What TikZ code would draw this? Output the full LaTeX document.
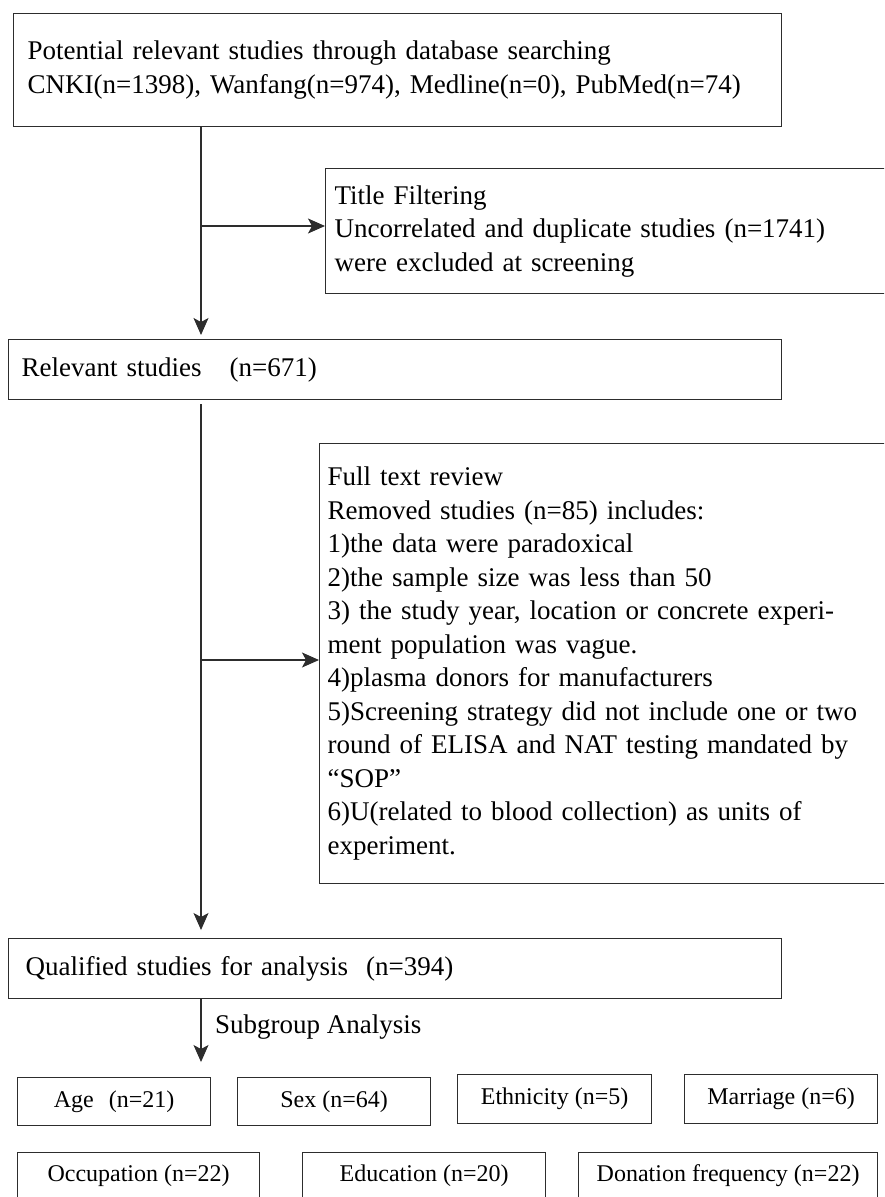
\documentclass[tikz,border=0pt]{standalone}
\usepackage{fontspec}
\setmainfont{Liberation Serif}
\usetikzlibrary{positioning,arrows.meta,calc}
\definecolor{flowLine}{RGB}{45,45,45}

\begin{document}
\begin{tikzpicture}[x=1pt,y=-1pt,
  box/.style={rectangle,draw=flowLine,line width=1.2pt,anchor=north west,
              inner xsep=#1,inner ysep=0pt,align=left,
              font=\fontsize{27}{33.5}\selectfont},
  grp/.style={rectangle,draw=flowLine,line width=1.2pt,anchor=north west,
              inner sep=0pt,align=center,font=\fontsize{24}{28}\selectfont},
  flow/.style={-{Stealth[length=17pt,width=15pt,inset=4pt]},draw=flowLine,
               line width=1.2pt}
]
\useasboundingbox (0,0) rectangle (884,1197);
\clip (0,0) rectangle (884,1197);

% Main boxes
\node[box=14pt,text width=740pt,minimum height=113pt] (search) at (13,13)
  {Potential relevant studies through database searching\\
   CNKI(n=1398), Wanfang(n=974), Medline(n=0), PubMed(n=74)};
\node[box=9pt,text width=557pt,minimum height=125pt] (title) at (325,168)
  {Title Filtering\\
   Uncorrelated and duplicate studies (n=1741)\\
   were excluded at screening};
\node[box=13pt,text width=747pt,minimum height=60pt] (relevant) at (8,339)
  {Relevant studies\hspace{28pt}(n=671)};
\node[box=8pt,text width=565pt,minimum height=440pt] (fulltext) at (319,443)
  {Full text review\\
   Removed studies (n=85) includes:\\
   1)the data were paradoxical\\
   2)the sample size was less than 50\\
   3) the study year, location or concrete experi-\\
   ment population was vague.\\
   4)plasma donors for manufacturers\\
   5)Screening strategy did not include one or two\\
   round of ELISA and NAT testing mandated by\\
   “SOP”\\
   6)U(related to blood collection) as units of\\
   experiment.};
\node[box=17pt,text width=739pt,minimum height=60pt] (qualified) at (8,938)
  {Qualified studies for analysis\hspace{9pt} (n=394)};

% Subgroup boxes
\foreach \nm/\px/\py/\w/\h/\lbl in {
  age/17/1077/193/48/{Age\hspace{9pt} (n=21)},
  sex/237/1077/193/48/{Sex (n=64)},
  eth/457/1074/194/49/{Ethnicity (n=5)},
  mar/684/1074/193/49/{Marriage (n=6)},
  occ/17/1152/242/46/{Occupation (n=22)},
  edu/302/1152/243/46/{Education (n=20)},
  don/578/1152/299/46/{Donation frequency (n=22)}}
{
  \node[grp,minimum width=\w pt,minimum height=\h pt] (\nm) at (\px,\py) {\lbl};
}

% Connectors
\coordinate (spine) at (201,0);
\coordinate (jtitle) at (201,226);
\coordinate (jfull) at (201,660);
\draw[flow,shorten >=4pt] (search.south -| spine) -- (relevant.north -| spine);
\draw[flow] (jtitle) -- (jtitle -| title.west);
\draw[flow,shorten <=4pt,shorten >=8pt] (relevant.south -| spine) -- (qualified.north -| spine);
\draw[flow] (jfull) -- (jfull -| fulltext.west);
\draw[flow,shorten >=15pt] (qualified.south -| spine) -- (age.north -| spine);
\node[anchor=west,inner sep=0pt,font=\fontsize{27}{33.5}\selectfont] (sublbl)
  at (215,1027) {Subgroup Analysis};
\end{tikzpicture}
\end{document}
